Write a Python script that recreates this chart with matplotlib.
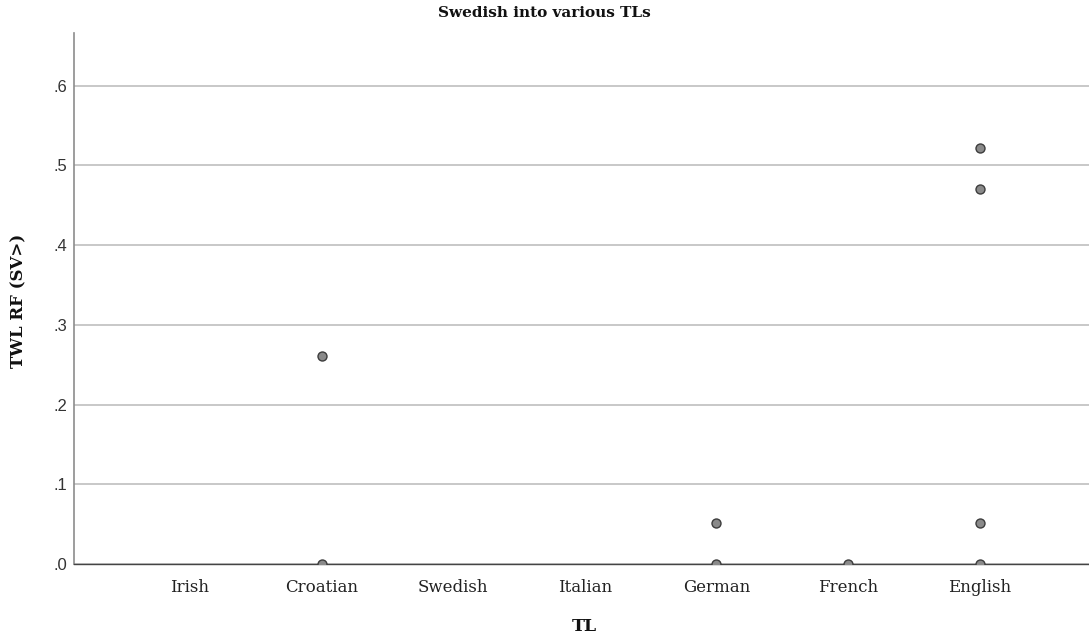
import matplotlib
matplotlib.use("Agg")
import matplotlib.pyplot as plt

# Target languages along the x axis
categories = ["Irish", "Croatian", "Swedish", "Italian", "German", "French", "English"]

# Observed TWL RF values per target language
point_tl = ["Croatian", "Croatian", "German", "German", "French",
            "English", "English", "English", "English"]
point_rf = [0.261, 0.0, 0.052, 0.0, 0.0, 0.522, 0.470, 0.052, 0.0]

y_ticks = [0.0, 0.1, 0.2, 0.3, 0.4, 0.5, 0.6]
y_tick_labels = [".0", ".1", ".2", ".3", ".4", ".5", ".6"]

fig = plt.figure(figsize=(10.89, 6.41), dpi=100)
ax = fig.add_axes([0.068, 0.12, 0.932, 0.8285])

xpos = [categories.index(t) for t in point_tl]
ax.scatter(xpos, point_rf, s=42, facecolor="#8a8a8a", edgecolor="#3c3c3c",
           linewidth=1.0, zorder=3, clip_on=True)

ax.set_xlim(-0.88, 6.83)
ax.set_ylim(0, 0.666)
ax.set_xticks(range(len(categories)))
ax.set_xticklabels(categories, family="DejaVu Serif", fontsize=12, color="#222222")
ax.set_yticks(y_ticks)
ax.set_yticklabels(y_tick_labels, family="Liberation Sans", fontsize=12, color="#333333")
ax.tick_params(axis="x", length=0, pad=11)
ax.tick_params(axis="y", length=0, pad=5)

ax.grid(axis="y", color="#c8c8c8", linewidth=1.4, zorder=0)
ax.set_axisbelow(True)

for side in ("top", "right"):
    ax.spines[side].set_visible(False)
ax.spines["left"].set_color("#8c8c8c")
ax.spines["left"].set_linewidth(1.2)
ax.spines["bottom"].set_color("#444444")
ax.spines["bottom"].set_linewidth(1.0)

fig.text(0.4995, 0.98, "Swedish into various TLs", ha="center", va="center",
         family="DejaVu Serif", fontweight="bold", fontsize=11, color="#111111")
fig.text(0.537, 0.022, "TL", ha="center", va="center",
         family="DejaVu Serif", fontweight="bold", fontsize=12.5, color="#111111")
fig.text(0.017, 0.53, "TWL RF (SV>)", ha="center", va="center", rotation=90,
         family="DejaVu Serif", fontweight="bold", fontsize=12, color="#111111")

fig.savefig("out.png", dpi=100, facecolor="white")
